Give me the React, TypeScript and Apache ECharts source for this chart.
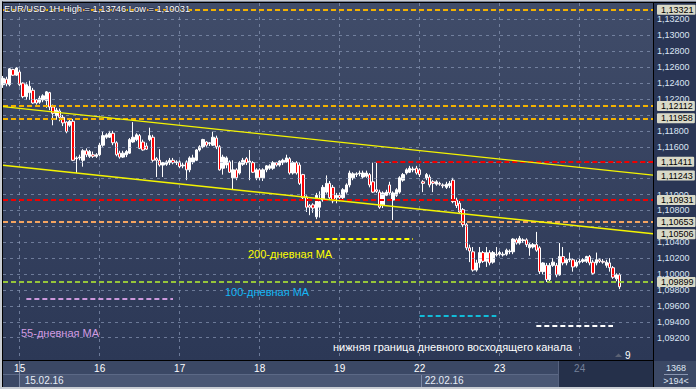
import React, { useEffect, useRef } from "react";
import * as echarts from "echarts";

// ---------- data ----------
const barSlots = 196; // visible hourly slots (194 bars + margin)
const dayLabels = ["15", "16", "17", "18", "19", "22", "23", "24"];
const dayStartIndex = [5, 29, 53, 77, 101, 125, 149, 173];
const dateLabels = ["15.02.16", "22.02.16"];
const dateStartIndex = [5, 125];
const futureDayIndex = 173;

const opens = [
  1.1238, 1.1245, 1.1238, 1.1257, 1.125, 1.1254, 1.124, 1.1223, 1.1228, 1.1231,
  1.1219, 1.1216, 1.1219, 1.1218, 1.1228, 1.121, 1.1199, 1.1205, 1.1197, 1.1191,
  1.1187, 1.1192, 1.1145, 1.1146, 1.1143, 1.1155, 1.1148, 1.115, 1.1148, 1.115,
  1.1162, 1.1172, 1.1172, 1.1177, 1.1165, 1.1152, 1.1147, 1.115, 1.1152, 1.1166,
  1.1169, 1.1174, 1.1166, 1.1161, 1.1169, 1.1172, 1.1145, 1.1143, 1.1137, 1.1138,
  1.114, 1.1143, 1.114, 1.1141, 1.1136, 1.1141, 1.1131, 1.1141, 1.1143, 1.1156,
  1.116, 1.1166, 1.1164, 1.1162, 1.1171, 1.116, 1.1133, 1.1137, 1.1141, 1.1121,
  1.1131, 1.1127, 1.1138, 1.1145, 1.114, 1.114, 1.1121, 1.1131, 1.1121, 1.1131,
  1.1133, 1.1133, 1.114, 1.1137, 1.114, 1.1141, 1.1145, 1.1127, 1.114, 1.1137,
  1.1125, 1.1097, 1.1086, 1.1087, 1.1072, 1.1084, 1.1093, 1.1103, 1.1114, 1.1109,
  1.1096, 1.1099, 1.1096, 1.1103, 1.1112, 1.1121, 1.1125, 1.1126, 1.1122, 1.1123,
  1.1125, 1.1116, 1.1106, 1.1103, 1.1087, 1.1099, 1.1112, 1.1093, 1.1099, 1.1103,
  1.1118, 1.1127, 1.1128, 1.1131, 1.1133, 1.1131, 1.1116, 1.1121, 1.1122, 1.1116,
  1.1113, 1.1114, 1.1112, 1.1109, 1.1111, 1.1118, 1.1093, 1.1089, 1.1081, 1.1062,
  1.1033, 1.1028, 1.1005, 1.1014, 1.1027, 1.1016, 1.1027, 1.1015, 1.1025, 1.1025,
  1.1024, 1.1025, 1.1028, 1.1028, 1.1043, 1.1039, 1.1042, 1.1043, 1.1033, 1.1034,
  1.1037, 1.1033, 1.1003, 1.1011, 1.0993, 1.1011, 1.1011, 1.0999, 1.1022, 1.1014,
  1.1018, 1.1018, 1.101, 1.1015, 1.1016, 1.1016, 1.1022, 1.1015, 1.1014, 1.1018,
  1.1016, 1.1011, 1.1014, 1.1008, 1.0994, 1.0999,
];
const closes = [
  1.1246, 1.1239, 1.1258, 1.125, 1.1259, 1.1238, 1.1223, 1.1238, 1.1236, 1.1215,
  1.1215, 1.1221, 1.1224, 1.1229, 1.121, 1.1202, 1.1206, 1.1197, 1.119, 1.1179,
  1.1192, 1.1143, 1.1146, 1.1147, 1.1155, 1.115, 1.1154, 1.1148, 1.115, 1.1162,
  1.1174, 1.1175, 1.1177, 1.1165, 1.115, 1.1147, 1.1152, 1.1154, 1.1169, 1.1172,
  1.1175, 1.1158, 1.1156, 1.1157, 1.1174, 1.1143, 1.1143, 1.1137, 1.114, 1.1141,
  1.1143, 1.114, 1.1141, 1.1135, 1.1137, 1.1131, 1.1146, 1.1146, 1.1156, 1.116,
  1.1169, 1.1162, 1.1165, 1.1172, 1.116, 1.1131, 1.1147, 1.1146, 1.1128, 1.1131,
  1.1121, 1.114, 1.1143, 1.114, 1.1142, 1.1128, 1.1131, 1.1121, 1.1131, 1.1136,
  1.1136, 1.114, 1.1137, 1.1142, 1.1143, 1.1146, 1.1127, 1.114, 1.1127, 1.1114,
  1.1096, 1.1084, 1.1084, 1.1083, 1.1099, 1.1091, 1.1109, 1.1114, 1.1096, 1.1092,
  1.1099, 1.1096, 1.1106, 1.1112, 1.1127, 1.1126, 1.1126, 1.1127, 1.1127, 1.1127,
  1.1112, 1.1103, 1.1104, 1.1084, 1.1102, 1.1103, 1.1102, 1.1102, 1.1106, 1.1121,
  1.1125, 1.1131, 1.1133, 1.1132, 1.1127, 1.1125, 1.1114, 1.1125, 1.1112, 1.1114,
  1.1116, 1.1113, 1.1111, 1.1113, 1.1114, 1.1091, 1.1086, 1.1078, 1.1062, 1.1033,
  1.1029, 1.1005, 1.1014, 1.1027, 1.1016, 1.1027, 1.1014, 1.1027, 1.1024, 1.1027,
  1.1025, 1.103, 1.1029, 1.1044, 1.1039, 1.1045, 1.1043, 1.1037, 1.1037, 1.1037,
  1.103, 1.1003, 1.1014, 1.0993, 1.1011, 1.1015, 1.0999, 1.1022, 1.1014, 1.1018,
  1.1019, 1.1009, 1.1015, 1.1016, 1.1018, 1.1022, 1.1014, 1.1001, 1.1018, 1.1016,
  1.1015, 1.1015, 1.1008, 1.0996, 1.0999, 1.0984,
];
const lows = [
  1.1234, 1.1236, 1.1236, 1.1249, 1.1249, 1.1236, 1.1221, 1.1219, 1.1219, 1.1214,
  1.1213, 1.1214, 1.1216, 1.1209, 1.1206, 1.1187, 1.1194, 1.1192, 1.1186, 1.1177,
  1.1185, 1.1142, 1.1127, 1.1143, 1.1135, 1.1147, 1.1146, 1.1146, 1.1146, 1.1148,
  1.116, 1.117, 1.1171, 1.1162, 1.1148, 1.1145, 1.1146, 1.1147, 1.1151, 1.1165,
  1.1167, 1.1157, 1.1155, 1.1156, 1.1167, 1.1141, 1.1122, 1.1135, 1.1122, 1.1136,
  1.1137, 1.1138, 1.1137, 1.1133, 1.1133, 1.1118, 1.1128, 1.1138, 1.1142, 1.1154,
  1.1158, 1.116, 1.1161, 1.1161, 1.1157, 1.113, 1.1125, 1.1133, 1.1127, 1.1106,
  1.1118, 1.1125, 1.1136, 1.1137, 1.1118, 1.1127, 1.1118, 1.1118, 1.1117, 1.1128,
  1.1131, 1.1131, 1.1135, 1.1135, 1.1137, 1.114, 1.1125, 1.1125, 1.1125, 1.1112,
  1.1093, 1.1078, 1.1074, 1.1077, 1.1069, 1.1071, 1.1091, 1.1101, 1.1093, 1.1089,
  1.1089, 1.1093, 1.1093, 1.1101, 1.1109, 1.1118, 1.1122, 1.1123, 1.112, 1.1121,
  1.1109, 1.1102, 1.1102, 1.1082, 1.1083, 1.1098, 1.1099, 1.1068, 1.1097, 1.1101,
  1.1116, 1.1125, 1.1127, 1.1128, 1.1125, 1.1122, 1.1103, 1.1118, 1.1109, 1.1103,
  1.1111, 1.1111, 1.1108, 1.1107, 1.1108, 1.1089, 1.1083, 1.1077, 1.1059, 1.103,
  1.1015, 1.1003, 1.1003, 1.1008, 1.1014, 1.1009, 1.1011, 1.1013, 1.1022, 1.1023,
  1.1022, 1.1023, 1.1025, 1.1025, 1.1037, 1.1037, 1.1039, 1.1034, 1.1023, 1.1032,
  1.1028, 1.1, 1.1, 1.099, 1.099, 1.1009, 1.0996, 1.0998, 1.1011, 1.1011,
  1.1015, 1.1003, 1.1008, 1.1013, 1.1014, 1.1014, 1.1011, 1.0999, 1.1011, 1.1014,
  1.1013, 1.1008, 1.1003, 1.0994, 1.0991, 1.0981,
];
const highs = [
  1.1249, 1.1248, 1.1259, 1.1258, 1.126, 1.1257, 1.1241, 1.1241, 1.1243, 1.1234,
  1.122, 1.1224, 1.1226, 1.123, 1.1229, 1.1213, 1.1209, 1.1208, 1.12, 1.1192,
  1.1195, 1.1195, 1.1148, 1.115, 1.1157, 1.1158, 1.1156, 1.1154, 1.1152, 1.1165,
  1.1179, 1.1177, 1.118, 1.118, 1.1167, 1.1155, 1.1155, 1.1156, 1.1171, 1.1191,
  1.1177, 1.1176, 1.1169, 1.1165, 1.1184, 1.1175, 1.1147, 1.1157, 1.1141, 1.1143,
  1.1146, 1.1146, 1.1143, 1.1143, 1.114, 1.1143, 1.1148, 1.115, 1.1157, 1.1162,
  1.117, 1.1167, 1.1166, 1.1179, 1.1174, 1.1162, 1.115, 1.1148, 1.1143, 1.1143,
  1.1133, 1.1142, 1.1146, 1.1147, 1.1156, 1.1142, 1.1133, 1.1133, 1.1133, 1.1137,
  1.1138, 1.1142, 1.1141, 1.1143, 1.1145, 1.115, 1.1147, 1.1142, 1.1142, 1.114,
  1.1126, 1.1099, 1.1088, 1.1089, 1.1102, 1.1104, 1.1112, 1.1124, 1.1117, 1.1112,
  1.1102, 1.1102, 1.1108, 1.1114, 1.113, 1.1128, 1.1128, 1.113, 1.113, 1.113,
  1.1127, 1.114, 1.114, 1.1106, 1.1104, 1.1106, 1.1116, 1.1104, 1.1108, 1.1123,
  1.1127, 1.1133, 1.1136, 1.1135, 1.1136, 1.1133, 1.1118, 1.1127, 1.1125, 1.1118,
  1.1118, 1.1116, 1.1114, 1.1116, 1.1117, 1.1121, 1.1096, 1.1092, 1.1083, 1.1064,
  1.1037, 1.1034, 1.1018, 1.1034, 1.1029, 1.1034, 1.103, 1.1029, 1.1034, 1.1029,
  1.1028, 1.1032, 1.1031, 1.1045, 1.1045, 1.1048, 1.1045, 1.1045, 1.1039, 1.1039,
  1.1053, 1.1035, 1.1015, 1.1014, 1.1014, 1.102, 1.1014, 1.1039, 1.1034, 1.102,
  1.1027, 1.102, 1.1018, 1.1019, 1.102, 1.1023, 1.1024, 1.1018, 1.1027, 1.102,
  1.1019, 1.1018, 1.102, 1.101, 1.1001, 1.1001,
];

const yMin = 1.0892;
const yMax = 1.13407;
const yTicks = [
  1.092, 1.094, 1.096, 1.098, 1.1, 1.102, 1.104, 1.106, 1.108, 1.11, 1.112,
  1.114, 1.116, 1.118, 1.12, 1.122, 1.124, 1.126, 1.128, 1.13, 1.132,
];

const goldLevels = [1.13321, 1.12112, 1.11958];
const redLevels = [1.10931];
const redPartialLevel = [112, 1.11411]; // [start index, price]
const orangeLevels = [1.10653];
const greenLevels = [1.09899];
const upperChannel = [1.12104, 1.11243]; // price at first / last slot
const lowerChannel = [1.11367, 1.10506];
const ma200Segment = [94, 123, 1.10441];
const ma55Segment = [7, 51, 1.09687];
const ma100Segment = [125, 148, 1.09473];
const channelSegment = [160, 183, 1.09347];

const titleText = "EUR/USD 1H High = 1,13746 Low = 1,10031";
const barsCount = "1368";
const visibleBars = ">194<";

// ---------- chart ----------
const FONT = '"Liberation Sans", Arial, sans-serif';
const fmt = (v: number) => v.toFixed(5).replace(".", ",");

const tagPrices = [
  ...goldLevels,
  ...redLevels,
  redPartialLevel[1],
  ...orangeLevels,
  ...greenLevels,
  upperChannel[1],
  lowerChannel[1],
];

function buildOption() {
  const categories = Array.from({ length: barSlots }, (_, i) => String(i));
  const last = barSlots - 1;
  const candles = opens.map((o, i) => [o, closes[i], lows[i], highs[i]]);

  const tag = (text: string) => ({
    show: true,
    position: "end",
    distance: 4,
    formatter: text,
    backgroundColor: "#d9d9c8",
    color: "#000",
    fontSize: 9,
    fontFamily: FONT,
    padding: [1, 2, 0, 4],
    borderRadius: 1,
  });
  const noLabel = { show: false };

  const full = (price: number, color: string) => ({
    yAxis: price,
    lineStyle: { color, width: 2, type: [5, 3] },
    label: tag(fmt(price)),
  });
  const seg = (x0: number, x1: number, price: number, color: string) => [
    { coord: [x0, price], lineStyle: { color, width: 2, type: [5, 3] }, label: noLabel },
    { coord: [x1, price] },
  ];
  const trend = (p: number[]) => [
    {
      coord: [0, p[0]],
      lineStyle: { color: "#f4f400", width: 1.4, type: "solid" },
      label: tag(fmt(p[1])),
    },
    { coord: [last, p[1]] },
  ];

  const isDay = (i: number) => dayStartIndex.indexOf(i) >= 0;
  const isDate = (i: number) => dateStartIndex.indexOf(i) >= 0;
  const hiddenByTag = (v: number) => tagPrices.some((p) => Math.abs(p - v) < 0.0006);

  const bgRect = (x: number, y: number, w: number, h: number, fill: string) => ({
    type: "rect",
    silent: true,
    z: -1,
    shape: { x, y, width: w, height: h },
    style: { fill },
  });
  const bgLine = (x1: number, y1: number, x2: number, y2: number, stroke: string) => ({
    type: "line",
    silent: true,
    z: -1,
    shape: { x1, y1, x2, y2 },
    style: { stroke, lineWidth: 1 },
  });
  const note = (x: number, y: number, text: string, fill: string, size = 11) => ({
    type: "text",
    silent: true,
    z: 100,
    x,
    y,
    style: {
      text,
      fill,
      fontSize: size,
      fontFamily: FONT,
      textVerticalAlign: "middle",
      verticalAlign: "middle",
    },
  });

  return {
    animation: false,
    backgroundColor: "#2a3655",
    grid: {
      left: 3,
      top: 3,
      right: 43,
      bottom: 29,
      show: true,
      borderWidth: 0,
      backgroundColor: {
        type: "linear",
        x: 0,
        y: 0,
        x2: 0,
        y2: 1,
        colorStops: [
          { offset: 0, color: "#404c69" },
          { offset: 1, color: "#2c3856" },
        ],
      },
    },
    xAxis: [
      {
        type: "category",
        data: categories,
        boundaryGap: false,
        axisLine: { show: true, lineStyle: { color: "#000", width: 1 } },
        axisTick: { show: false },
        axisLabel: {
          interval: (i: number) => isDay(i),
          formatter: (v: string) => dayLabels[dayStartIndex.indexOf(Number(v))] ?? "",
          color: (v: string) => (Number(v) >= futureDayIndex ? "#75809a" : "#ffffff"),
          fontSize: 10,
          fontFamily: FONT,
          margin: 3,
        },
        splitLine: {
          show: true,
          interval: (i: number) => isDay(i),
          lineStyle: { color: "rgba(150,165,195,0.6)", width: 1, type: [3, 4] },
        },
      },
      {
        type: "category",
        data: categories,
        boundaryGap: false,
        position: "bottom",
        offset: 11,
        axisLine: { show: false },
        axisTick: { show: false },
        splitLine: { show: false },
        axisLabel: {
          interval: (i: number) => isDate(i),
          formatter: (v: string) => dateLabels[dateStartIndex.indexOf(Number(v))] ?? "",
          align: "left",
          padding: [0, 0, 0, 5],
          color: "#e6ecf6",
          fontSize: 10,
          fontFamily: FONT,
          margin: 4,
        },
      },
    ],
    yAxis: {
      type: "value",
      position: "right",
      min: yMin,
      max: yMax,
      splitNumber: 22,
      minInterval: 0.002,
      maxInterval: 0.002,
      axisLine: { show: true, lineStyle: { color: "#000", width: 1 } },
      axisTick: { show: false },
      splitLine: { show: false },
      axisLabel: {
        margin: 4,
        color: "#dbe5f4",
        fontSize: 9,
        fontFamily: FONT,
        formatter: (v: number) =>
          v < 1.091 || v > 1.133 || hiddenByTag(v) ? "" : fmt(v),
      },
    },
    series: [
      {
        type: "line",
        data: [],
        z: 1,
        silent: true,
        markLine: {
          silent: true,
          precision: 5,
          symbol: ["none", "none"],
          label: { show: false },
          lineStyle: { color: "rgba(150,165,195,0.6)", width: 1, type: [3, 4] },
          data: yTicks.map((v) => ({ yAxis: v })),
        },
      },
      {
        type: "candlestick",
        data: candles,
        z: 3,
        barWidth: 3,
        itemStyle: {
          color: "#ffffff",
          color0: "#ff0000",
          borderColor: "#ffffff",
          borderColor0: "#ffffff",
          borderWidth: 1,
        },
      },
      {
        type: "line",
        data: [],
        z: 4,
        silent: true,
        markLine: {
          silent: true,
          precision: 5,
          symbol: ["none", "none"],
          label: { show: false },
          data: [
            ...goldLevels.map((p) => full(p, "#f4b200")),
            ...redLevels.map((p) => full(p, "#f00000")),
            [
              {
                coord: [redPartialLevel[0], redPartialLevel[1]],
                lineStyle: { color: "#f00000", width: 2, type: [5, 3] },
                label: tag(fmt(redPartialLevel[1])),
              },
              { coord: [last, redPartialLevel[1]] },
            ],
            ...orangeLevels.map((p) => full(p, "#f4a460")),
            ...greenLevels.map((p) => full(p, "#95c43a")),
            trend(upperChannel),
            trend(lowerChannel),
            seg(ma200Segment[0], ma200Segment[1], ma200Segment[2], "#ffff00"),
            seg(ma55Segment[0], ma55Segment[1], ma55Segment[2], "#cc99dd"),
            seg(ma100Segment[0], ma100Segment[1], ma100Segment[2], "#12bcd8"),
            seg(channelSegment[0], channelSegment[1], channelSegment[2], "#ffffff"),
          ],
        },
      },
    ],
    graphic: [
      bgRect(0, 0, 2, 389, "#c9cdd3"),
      bgRect(0, 0, 696, 1.5, "#c9cdd3"),
      bgRect(0, 387, 696, 2, "#c9cdd3"),
      bgLine(2.5, 1.5, 2.5, 387, "#000"),
      bgLine(2, 2.5, 696, 2.5, "#000"),
      bgRect(3, 360.5, 650, 26.5, "#3b4865"),
      bgLine(3, 374.5, 558, 374.5, "#5c6986"),
      bgRect(19.5, 375, 402, 12, "#4a5774"),
      bgRect(421.5, 375, 136.5, 12, "#4a5774"),
      bgLine(19.5, 361, 19.5, 387, "#7d8aa6"),
      bgLine(421.5, 375, 421.5, 387, "#7d8aa6"),
      bgRect(558, 361, 95, 26, "#25304a"),
      bgLine(558.5, 361, 558.5, 387, "#56627f"),
      bgLine(653.5, 360, 653.5, 387, "#000"),
      bgRect(654, 361, 42, 26, "#3b4865"),
      bgLine(664, 374.5, 688, 374.5, "#8b97b2"),
      {
        type: "text",
        silent: true,
        z: 100,
        x: 676,
        y: 368,
        style: { text: barsCount, fill: "#dfe6f2", fontSize: 9, fontFamily: FONT, align: "center", verticalAlign: "middle" },
      },
      {
        type: "text",
        silent: true,
        z: 100,
        x: 676,
        y: 380.5,
        style: { text: visibleBars, fill: "#dfe6f2", fontSize: 9, fontFamily: FONT, align: "center", verticalAlign: "middle" },
      },
      {
        type: "text",
        silent: true,
        z: 100,
        x: 4,
        y: 8.5,
        style: {
          text: titleText,
          fill: "#ffffff",
          fontSize: 9.3,
          fontFamily: FONT,
          verticalAlign: "middle",
          stroke: "#2a3350",
          lineWidth: 1.2,
        },
      },
      note(248, 254, "200-дневная MA", "#ffff00"),
      note(225, 292, "100-дневная MA", "#14b6f4"),
      note(21, 332.5, "55-дневная MA", "#d29ce2"),
      note(333, 346.5, "нижняя граница дневного восходящего канала", "#ffffff"),
      note(625, 355, "9", "#ffffff", 10),
      {
        type: "polygon",
        silent: true,
        z: 100,
        shape: { points: [[615, 357], [618.5, 353.5], [622, 357]] },
        style: { fill: "#5b6274" },
      },
    ],
  };
}

export default function App() {
  const ref = useRef<HTMLDivElement>(null);
  useEffect(() => {
    if (!ref.current) return;
    const chart = echarts.init(ref.current, null, { renderer: "svg" });
    chart.setOption(buildOption() as any);
    return () => chart.dispose();
  }, []);
  return (
    <div
      ref={ref}
      style={{ position: "fixed", left: 0, top: 0, width: 696, height: 389 }}
    />
  );
}
